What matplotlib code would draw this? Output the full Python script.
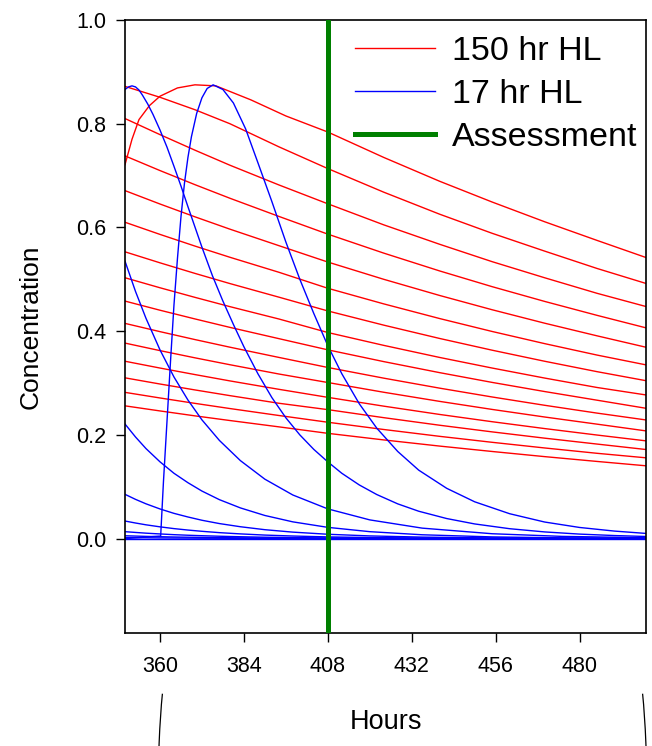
import matplotlib
matplotlib.use("Agg")
import matplotlib.pyplot as plt
from matplotlib.lines import Line2D
from matplotlib.patches import Arc

plt.rcParams["font.family"] = ["Liberation Sans", "DejaVu Sans"]

# ── data ───────────────────────────────────────────────────────
# 150 hr half-life curves (red)
RED_HOURS = [350, 360, 370, 380, 394, 408, 424, 440, 455, 470, 485, 499]
RED_01 = [0.872, 0.851, 0.827, 0.800, 0.7555, 0.7135, 0.668, 0.6255, 0.5887,
          0.5544, 0.5209, 0.492]
RED_02 = [0.810, 0.779, 0.749, 0.720, 0.682, 0.6456, 0.605, 0.5675, 0.534,
          0.503, 0.473, 0.4475]
RED_03 = [0.738, 0.7097, 0.6825, 0.6563, 0.6213, 0.5871, 0.5505, 0.5161,
          0.4858, 0.4574, 0.4305, 0.4064]
RED_04 = [0.671, 0.6452, 0.6205, 0.5967, 0.5649, 0.5333, 0.500, 0.4688,
          0.4413, 0.4154, 0.391, 0.369]
RED_05 = [0.610, 0.5866, 0.5641, 0.5425, 0.5136, 0.4827, 0.4526, 0.4243,
          0.3994, 0.376, 0.3539, 0.335]
RED_06 = [0.553, 0.5318, 0.5114, 0.4918, 0.4656, 0.439, 0.4116, 0.3859,
          0.3633, 0.342, 0.3219, 0.3045]
RED_07 = [0.503, 0.4837, 0.4652, 0.4473, 0.4235, 0.3974, 0.3726, 0.3493,
          0.3289, 0.3096, 0.2914, 0.277]
RED_08 = [0.458, 0.4404, 0.4236, 0.4073, 0.3856, 0.364, 0.3413, 0.320,
          0.3012, 0.2836, 0.2669, 0.2513]
RED_09 = [0.415, 0.3991, 0.3838, 0.3691, 0.3494, 0.330, 0.3094, 0.2901,
          0.2731, 0.2571, 0.242, 0.2288]
RED_10 = [0.377, 0.3625, 0.3486, 0.3353, 0.3174, 0.301, 0.2822, 0.2646,
          0.2491, 0.2345, 0.2207, 0.2077]
RED_11 = [0.342, 0.3289, 0.3163, 0.3041, 0.2879, 0.2724, 0.2554, 0.2394,
          0.2254, 0.2122, 0.1997, 0.1885]
RED_12 = [0.310, 0.2981, 0.2867, 0.2757, 0.261, 0.2487, 0.2332, 0.2186,
          0.2058, 0.1937, 0.1823, 0.1718]
RED_13 = [0.282, 0.2712, 0.2608, 0.2508, 0.2374, 0.2244, 0.2104, 0.1972,
          0.1857, 0.1748, 0.1645, 0.1558]
RED_14 = [0.256, 0.2462, 0.2367, 0.2277, 0.2155, 0.203, 0.1903, 0.1784,
          0.168, 0.1581, 0.1488, 0.1404]
RED_DECAYS = [RED_01, RED_02, RED_03, RED_04, RED_05, RED_06, RED_07,
              RED_08, RED_09, RED_10, RED_11, RED_12, RED_13, RED_14]

# red dose that is still being absorbed at the left edge
RED_RISE_HOURS = [350, 352, 354, 357, 360, 365, 370, 376, 386, 396, 408, 424,
                  440, 455, 470, 485, 499]
RED_RISE = [0.721, 0.770, 0.808, 0.835, 0.853, 0.869, 0.875, 0.873, 0.846,
            0.815, 0.784, 0.735, 0.689, 0.649, 0.611, 0.575, 0.542]

# 17 hr half-life curves (blue)
BLUE_PEAK_HOURS = [350, 351, 352, 353, 354, 355, 356.5, 358, 360, 362, 364,
                   366, 368, 370, 372, 375, 378, 381, 384, 388, 392, 396, 400,
                   404, 408, 412, 417, 422, 428, 434, 442, 450, 460, 470, 480,
                   490, 499]
BLUE_PEAK = [0.866, 0.871, 0.873, 0.871, 0.865, 0.855, 0.838, 0.818, 0.788,
             0.755, 0.718, 0.680, 0.640, 0.601, 0.562, 0.507, 0.458, 0.413,
             0.370, 0.318, 0.272, 0.233, 0.200, 0.172, 0.148, 0.126, 0.1035,
             0.085, 0.067, 0.0528, 0.0387, 0.0283, 0.0191, 0.0129, 0.0087,
             0.0059, 0.0041]

BLUE_RISE_HOURS = [350, 360.2, 361, 362, 363, 364, 365, 366, 367, 368, 369,
                   370.5, 372, 373.5, 375.2, 378, 381, 384.5, 388, 392, 396,
                   400, 404, 408, 412, 417, 422, 428, 434, 442, 450, 460, 470,
                   480, 490, 499]
BLUE_RISE = [0.0, 0.005, 0.11, 0.225, 0.34, 0.45, 0.54, 0.62, 0.685, 0.735,
             0.775, 0.82, 0.85, 0.868, 0.875, 0.866, 0.840, 0.790, 0.725,
             0.650, 0.572, 0.500, 0.434, 0.372, 0.318, 0.260, 0.213, 0.168,
             0.132, 0.097, 0.071, 0.048, 0.032, 0.0215, 0.0145, 0.0100]

BLUE_HOURS = [350, 353, 356, 360, 364, 368, 372, 377, 383, 390, 398, 408,
              420, 435, 455, 475, 499]
BLUE_03 = [0.535, 0.4767, 0.4248, 0.364, 0.3117, 0.2672, 0.229, 0.1893,
           0.1504, 0.1146, 0.0841, 0.0573, 0.0361, 0.0202, 0.0094, 0.0043,
           0.0017]
BLUE_04 = [0.221, 0.196, 0.1736, 0.1481, 0.126, 0.1078, 0.0917, 0.0751,
           0.0592, 0.0446, 0.0323, 0.0217, 0.0134, 0.0074, 0.0033, 0.0015,
           0.0006]
BLUE_05 = [0.0854, 0.0757, 0.0671, 0.0572, 0.0487, 0.0417, 0.0354, 0.029,
           0.0229, 0.0172, 0.0125, 0.0084, 0.0052, 0.0029, 0.0013, 0.0006,
           0.0002]
BLUE_06 = [0.0339, 0.0301, 0.0266, 0.0227, 0.0193, 0.0165, 0.0141, 0.0115,
           0.0091, 0.0068, 0.005, 0.0033, 0.0021, 0.0011, 0.0005, 0.0002,
           0.0001]
BLUE_07 = [0.0134, 0.0119, 0.0105, 0.009, 0.0076, 0.0065, 0.0056, 0.0046,
           0.0036, 0.0027, 0.002, 0.0013, 0.0008, 0.0004, 0.0002, 0.0001, 0.0]
BLUE_08 = [0.0055, 0.0049, 0.0043, 0.0037, 0.0031, 0.0027, 0.0023, 0.0019,
           0.0015, 0.0011, 0.0008, 0.0005, 0.0003, 0.0002, 0.0001, 0.0, 0.0]
BLUE_09 = [0.002, 0.0018, 0.0016, 0.0013, 0.0011, 0.001, 0.0008, 0.0007,
           0.0005, 0.0004, 0.0003, 0.0002, 0.0001, 0.0001, 0.0, 0.0, 0.0]
BLUE_ZERO = [0.0] * len(BLUE_HOURS)
BLUE_DECAYS = [BLUE_03, BLUE_04, BLUE_05, BLUE_06, BLUE_07, BLUE_08, BLUE_09,
               BLUE_ZERO]

ASSESSMENT_HOUR = 408
X_TICKS = [360, 384, 408, 432, 456, 480]
Y_TICKS = [0.0, 0.2, 0.4, 0.6, 0.8, 1.0]

RED = "#FF0000"
BLUE = "#0000FF"
GREEN = "#008000"

# ── figure ─────────────────────────────────────────────────────
fig = plt.figure(figsize=(6.52, 7.46), dpi=100, facecolor="white")
ax = fig.add_axes([125 / 652, 1 - 633 / 746, 521 / 652, 613 / 746])

for vals in RED_DECAYS:
    ax.plot(RED_HOURS, vals, color=RED, lw=1.0)
ax.plot(RED_RISE_HOURS, RED_RISE, color=RED, lw=1.0)

for vals in BLUE_DECAYS:
    ax.plot(BLUE_HOURS, vals, color=BLUE, lw=1.0)
ax.plot(BLUE_PEAK_HOURS, BLUE_PEAK, color=BLUE, lw=1.0)
ax.plot(BLUE_RISE_HOURS, BLUE_RISE, color=BLUE, lw=1.0)

ax.axvline(ASSESSMENT_HOUR, color=GREEN, lw=3.6, zorder=5)

ax.set_xlim(350, 499)
ax.set_ylim(-0.182, 1.0)
ax.set_xticks(X_TICKS)
ax.set_yticks(Y_TICKS)
ax.set_yticklabels([f"{v:.1f}" for v in Y_TICKS])
ax.tick_params(direction="out", length=6.5, width=1.0, labelsize=15.5)
ax.tick_params(axis="x", pad=10)
ax.tick_params(axis="y", pad=7)
for sp in ax.spines.values():
    sp.set_linewidth(1.2)

ax.set_xlabel("Hours", fontsize=19.5, labelpad=23)
ax.set_ylabel("Concentration", fontsize=19, labelpad=24)

handles = [Line2D([], [], color=RED, lw=1.0),
           Line2D([], [], color=BLUE, lw=1.0),
           Line2D([], [], color=GREEN, lw=3.6)]
ax.legend(handles, ["150 hr HL", "17 hr HL", "Assessment"],
          loc="upper left", bbox_to_anchor=(355 / 652, 1 - 36 / 746),
          bbox_transform=fig.transFigure, frameon=False, fontsize=24.5,
          handlelength=2.35, handletextpad=0.5, labelspacing=0.35,
          borderpad=0, borderaxespad=0)

# clipped bracket strokes at the bottom edge
fig.add_artist(Arc((173 / 652, 1 - 800 / 746), 30 / 652, 300 / 746,
                   theta1=96.5, theta2=180, transform=fig.transFigure,
                   color="black", lw=0.9))
fig.add_artist(Arc((632 / 652, 1 - 800 / 746), 30 / 652, 300 / 746,
                   theta1=0, theta2=83.5, transform=fig.transFigure,
                   color="black", lw=0.9))

fig.savefig("out.png", dpi=100, facecolor="white")
